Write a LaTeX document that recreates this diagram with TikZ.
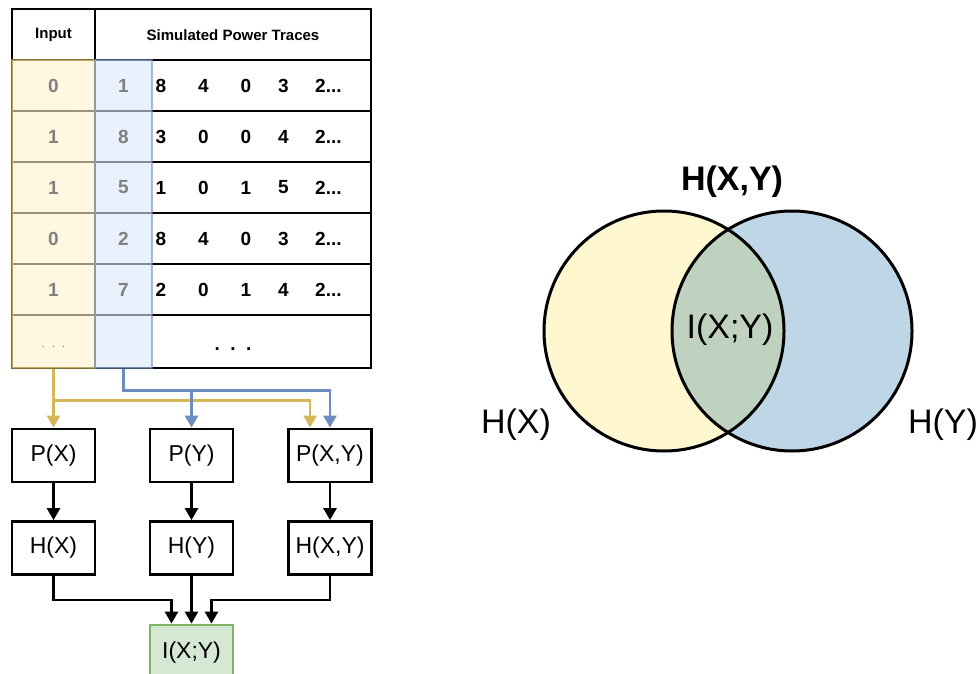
\documentclass[tikz,border=0pt]{standalone}
\usepackage{fontspec}
\setmainfont{Liberation Sans}
\usetikzlibrary{arrows.meta}
\definecolor{ylwfill}{HTML}{FFF2CC}
\definecolor{ylwline}{HTML}{D6B656}
\definecolor{blufill}{HTML}{DAE8FC}
\definecolor{bluline}{HTML}{6C8EBF}
\definecolor{grnfill}{HTML}{D5E8D4}
\definecolor{grnline}{HTML}{82B366}
\definecolor{greytxt}{HTML}{808080}
\definecolor{vennY}{HTML}{FFF7CF}
\definecolor{vennB}{HTML}{BED6E5}
\definecolor{vennI}{HTML}{BFD2C0}
\begin{document}
\begin{tikzpicture}[x=1pt,y=-1pt,
  boxnode/.style={draw=black,line width=2.8pt,minimum width=83pt,minimum height=53pt,inner sep=0pt,font=\fontsize{23}{27}\selectfont},
  hdr/.style={font=\fontsize{15}{18}\selectfont\bfseries,inner sep=0pt},
  val/.style={font=\fontsize{19}{22}\selectfont\bfseries,inner sep=0pt},
  gval/.style={val,text=greytxt},
  ylwarrow/.style={draw=ylwline,line width=2.6pt,-{Triangle[width=13pt,length=12pt]}},
  bluarrow/.style={draw=bluline,line width=2.6pt,-{Triangle[width=13pt,length=12pt]}},
  blkarrow/.style={draw=black,line width=2.6pt,-{Triangle[width=13pt,length=12pt]}},
  venntxt/.style={font=\fontsize{34}{39}\selectfont,inner sep=0pt}
]
\useasboundingbox (0,0) rectangle (979,674);
% ---- table grid
\draw[line width=2.8pt] (12,9) rectangle (371,368);
\draw[line width=2.8pt] (12,60) -- (371,60);
\foreach \yy in {111,162,213,264,315} \draw[line width=2.8pt] (12,\yy) -- (371,\yy);
\draw[line width=2.8pt] (95,9) -- (95,368);
\node[hdr] (hin) at (53.5,35) {Input};
\node[hdr] (hsim) at (233,35) {Simulated Power Traces};
% ---- overlay columns
\node[draw=ylwline,fill=ylwfill,fill opacity=0.6,draw opacity=0.6,line width=2.8pt,minimum width=83pt,minimum height=308pt,inner sep=0pt] (incol) at (53.5,214) {};
\node[draw=bluline,fill=blufill,fill opacity=0.6,draw opacity=0.6,line width=2.8pt,minimum width=57pt,minimum height=308pt,inner sep=0pt] (bcol) at (123.5,214) {};
% ---- column texts
\foreach \v/\b/\yy in {0/1/85.5,1/8/136.5,1/5/187.5,0/2/238.5,1/7/289.5} {
  \node[gval] at (53.5,\yy) {\v};
  \node[gval] at (123.5,\yy) {\b};
}
\node[font=\fontsize{12}{14}\selectfont,text=greytxt,inner sep=0pt] (idots) at (53.5,347) {.\ \ .\ \ .};
% ---- value rows
\foreach \a/\b/\c/\d/\yy in {8/4/0/3/85.5,3/0/0/4/136.5,1/0/1/5/187.5,8/4/0/3/238.5,2/0/1/4/289.5} {
  \node[val] at (161,\yy) {\a};
  \node[val] at (203.5,\yy) {\b};
  \node[val] at (246,\yy) {\c};
  \node[val] at (283.5,\yy) {\d};
  \node[val,anchor=west] at (315,\yy) {2...};
}
\node[val] (vdots) at (233,349) {.\ \ .\ \ .};
% ---- boxes
\node[boxnode] (px) at (53.5,455.5) {P(X)};
\node[boxnode] (py) at (191.5,455.5) {P(Y)};
\node[boxnode] (pxy) at (330,455.5) {P(X,Y)};
\node[boxnode] (hx) at (53.5,548) {H(X)};
\node[boxnode] (hy) at (191.5,548) {H(Y)};
\node[boxnode] (hxy) at (330,548) {H(X,Y)};
\node[boxnode,draw=grnline,fill=grnfill,minimum height=55pt] (ixy) at (191.5,652.5) {I(X;Y)};
% ---- coloured connectors
\draw[ylwarrow] (incol.south) -- (px.north);
\draw[ylwarrow] (incol.south) -- ++(0,31) -| ([xshift=-20pt]pxy.north);
\draw[bluarrow] (bcol.south) -- ++(0,21) -| (py.north);
\draw[bluarrow] (bcol.south) -- ++(0,21) -| (pxy.north);
% ---- black connectors
\draw[blkarrow] (px.south) -- (hx.north);
\draw[blkarrow] (py.south) -- (hy.north);
\draw[blkarrow] (pxy.south) -- (hxy.north);
\draw[blkarrow] (hx.south) -- ++(0,24) -| ([xshift=-20pt]ixy.north);
\draw[blkarrow] (hy.south) -- (ixy.north);
\draw[blkarrow] (hxy.south) -- ++(0,24) -| ([xshift=20pt]ixy.north);
% ---- Venn diagram
\fill[vennY] (664,331) circle (120);
\fill[vennB] (792,331) circle (120);
\begin{scope}
  \clip (664,331) circle (120);
  \fill[vennI] (792,331) circle (120);
\end{scope}
\node[circle,draw=black,line width=3pt,minimum size=240pt,inner sep=0pt] (cx) at (664,331) {};
\node[circle,draw=black,line width=3pt,minimum size=240pt,inner sep=0pt] (cy) at (792,331) {};
\node[venntxt,font=\fontsize{34}{39}\selectfont\bfseries] (hxylab) at (732,182) {H(X,Y)};
\node[venntxt] (ilab) at (730,330) {I(X;Y)};
\node[venntxt] (hxlab) at (516,425) {H(X)};
\node[venntxt] (hylab) at (943,425) {H(Y)};
\end{tikzpicture}
\end{document}
